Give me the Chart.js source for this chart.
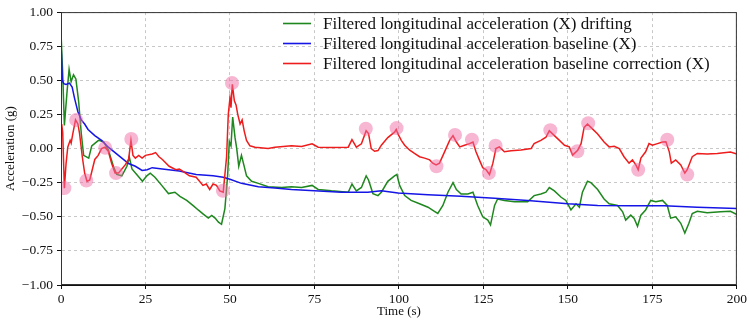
<!DOCTYPE html>
<html>
<head>
<meta charset="utf-8">
<script src="https://cdn.jsdelivr.net/npm/chart.js@4"></script>
<style>
  html, body { margin: 0; padding: 0; background: #fff; }
  #accChart { display: block; }
</style>
</head>
<body>
<canvas id="accChart" width="749" height="326"></canvas>
<script>
// drifting signal (green)
const driftTime = [0, 0.5, 1, 1.8, 2.4, 3, 3.7, 4.4, 5.2, 6, 6.7, 8.2, 9.1, 10.1, 11.1, 12.6, 14, 15.5, 16.5, 18, 19.5, 20.2, 21, 22.4, 24.1, 25.4, 26.4, 27.8, 29.8, 31.8, 33.7, 35.2, 37.2, 39.2, 40.6, 42.1, 43.6, 44.6, 45.6, 46.6, 47.5, 48.5, 49.3, 49.8, 50.3, 50.8, 51.5, 52, 52.6, 53.4, 54.1, 54.9, 56.4, 58.4, 61.3, 65.3, 68.2, 71.2, 74.3, 76.1, 80, 85, 86.1, 87.4, 88.9, 90.3, 91, 92.3, 93.8, 94.8, 96.7, 98.7, 99.4, 100.2, 101.7, 103.6, 106.1, 108.6, 110.5, 111.5, 113, 114.5, 116, 117, 118.4, 120.4, 121.9, 123.3, 124.8, 126.3, 127.1, 128.3, 129.2, 131.2, 134.2, 138.1, 140, 142, 143.5, 144.5, 146, 148, 149.4, 150.9, 152.4, 153.4, 154.3, 155.8, 156.8, 158.8, 160.7, 162.2, 164.7, 166.2, 167.1, 168.6, 169.6, 170.6, 171.6, 173, 174.5, 176, 178, 179.4, 180.4, 181.9, 183.4, 184.6, 185.8, 186.8, 188.3, 191.2, 195.2, 198.1, 200];
const driftVals = [0.85, 0.55, 0.17, 0.42, 0.58, 0.49, 0.54, 0.51, 0.35, 0.11, -0.05, -0.07, 0.02, 0.04, 0.06, 0.05, -0.01, -0.13, -0.19, -0.2, -0.13, -0.06, -0.15, -0.19, -0.24, -0.2, -0.18, -0.21, -0.27, -0.33, -0.32, -0.35, -0.38, -0.42, -0.45, -0.48, -0.51, -0.49, -0.51, -0.54, -0.555, -0.44, -0.2, 0.05, 0.02, 0.23, 0.08, 0.0, -0.13, -0.05, -0.12, -0.2, -0.24, -0.255, -0.28, -0.285, -0.28, -0.285, -0.27, -0.3, -0.31, -0.32, -0.26, -0.31, -0.285, -0.2, -0.23, -0.33, -0.345, -0.32, -0.24, -0.2, -0.19, -0.27, -0.345, -0.38, -0.405, -0.43, -0.46, -0.476, -0.417, -0.32, -0.25, -0.3, -0.333, -0.333, -0.32, -0.417, -0.5, -0.524, -0.56, -0.417, -0.37, -0.38, -0.39, -0.39, -0.345, -0.333, -0.32, -0.286, -0.31, -0.357, -0.38, -0.45, -0.405, -0.43, -0.32, -0.24, -0.25, -0.3, -0.37, -0.405, -0.417, -0.464, -0.524, -0.488, -0.512, -0.57, -0.488, -0.45, -0.38, -0.39, -0.38, -0.417, -0.51, -0.5, -0.548, -0.62, -0.548, -0.476, -0.46, -0.47, -0.464, -0.46, -0.483];

// baseline (blue)
const baseTime = [0, 0.4, 0.8, 1.5, 2.5, 3.3, 4, 5, 6, 7, 8, 10, 12, 14, 16, 18, 20, 22, 24, 25.5, 27, 30, 35, 40, 45, 48, 50, 53.4, 58.4, 63.3, 68.2, 75, 83, 90.8, 94.8, 99.7, 108.6, 118.4, 128.3, 138.1, 150, 158.8, 168.6, 178.5, 188.3, 200];
const baseVals = [0.78, 0.5, 0.476, 0.47, 0.48, 0.45, 0.37, 0.27, 0.21, 0.18, 0.14, 0.095, 0.06, 0.01, -0.03, -0.07, -0.11, -0.13, -0.16, -0.155, -0.14, -0.15, -0.165, -0.19, -0.2, -0.21, -0.225, -0.255, -0.28, -0.29, -0.3, -0.31, -0.32, -0.32, -0.31, -0.326, -0.338, -0.35, -0.364, -0.38, -0.405, -0.417, -0.42, -0.42, -0.43, -0.44];

// baseline correction (red)
const corrTime = [0.2, 0.5, 1, 1.5, 2, 2.7, 3, 3.5, 4.3, 5, 5.5, 6.3, 7, 7.7, 8.5, 9.3, 10, 11, 12, 13, 14, 15, 16, 17, 18, 19, 20, 20.7, 21.3, 22, 23, 24, 25, 27, 28, 29, 30, 32, 34, 35, 36, 38, 40, 42, 43, 44, 45, 46, 47, 48, 49, 49.5, 50, 50.3, 50.7, 51.3, 51.8, 52.3, 53, 53.6, 54.2, 54.9, 55.9, 57.4, 61.3, 63.3, 68.2, 71.2, 74.3, 76.1, 80, 85, 86.1, 87.4, 88.9, 90.3, 91, 91.8, 92.8, 93.8, 94.8, 96.7, 98.7, 99.2, 99.7, 100.7, 101.7, 103.2, 104.6, 106.1, 107.6, 109.1, 110, 111, 112, 113.5, 115, 116, 117, 118, 119.4, 120.9, 121.9, 122.8, 123.8, 124.8, 125.8, 126.8, 127.8, 128.7, 129.7, 131.2, 133.2, 136.1, 139.1, 140, 142, 143.5, 144.5, 146, 147.5, 149, 150.4, 151.4, 152.9, 153.9, 154.8, 155.8, 156.8, 158.8, 160.7, 162.2, 163.7, 165.2, 166.6, 168.1, 169.1, 170.1, 170.8, 171.6, 173, 174, 175, 176.5, 178, 179, 180, 180.6, 181.9, 183.4, 184.6, 185.3, 186.8, 188.3, 191.2, 194.2, 198.1, 200];
const corrVals = [0.18, 0.12, -0.29, -0.11, 0.01, 0.06, 0.04, 0.11, 0.21, 0.18, 0.11, -0.06, -0.18, -0.24, -0.23, -0.15, -0.08, -0.05, 0, 0.01, -0.02, -0.11, -0.18, -0.18, -0.15, -0.12, -0.08, 0.06, -0.05, -0.07, -0.05, -0.07, -0.05, -0.04, -0.03, -0.06, -0.08, -0.13, -0.155, -0.15, -0.165, -0.2, -0.21, -0.27, -0.26, -0.3, -0.26, -0.27, -0.31, -0.32, -0.06, 0.25, 0.37, 0.3, 0.47, 0.35, 0.32, 0.25, 0.18, 0.21, 0.13, 0.06, 0.02, 0.01, 0, 0.01, 0.02, 0.015, 0.035, 0.01, 0.007, 0.01, 0.065, 0.01, 0.035, 0.13, 0.11, 0, -0.02, -0.015, 0.025, 0.08, 0.12, 0.14, 0.107, 0.06, 0.024, -0.012, -0.036, -0.06, -0.07, -0.083, -0.107, -0.12, -0.107, -0.024, 0.06, 0.095, 0.048, 0.012, 0.024, 0.036, 0.048, -0.024, -0.083, -0.14, -0.155, -0.19, -0.107, 0, 0.012, -0.024, -0.017, -0.01, 0, 0.036, 0.06, 0.083, 0.13, 0.095, 0.06, 0.024, 0.012, -0.048, -0.012, 0.036, 0.155, 0.18, 0.155, 0.107, 0.048, 0.012, 0.017, 0, -0.06, -0.107, -0.083, -0.12, -0.155, -0.07, -0.024, 0.036, 0.024, 0.036, 0.048, 0.05, -0.024, -0.107, -0.083, -0.12, -0.18, -0.155, -0.06, -0.036, -0.04, -0.036, -0.026, -0.04];

// peak / valley markers (pink)
const peakTime = [1, 4.5, 7.5, 13.1, 16.3, 20.8, 47.9, 50.6, 90.2, 99.3, 111.1, 116.6, 121.6, 126.6, 128.6, 144.8, 152.8, 156, 170.8, 179.4, 185.3];
const peakVals = [-0.29, 0.21, -0.235, 0.005, -0.18, 0.07, -0.31, 0.48, 0.145, 0.15, -0.13, 0.1, 0.065, -0.18, 0.02, 0.135, -0.02, 0.185, -0.155, 0.065, -0.19];

const seriesNames = [
    'Filtered longitudinal acceleration (X) drifting',
    'Filtered longitudinal acceleration baseline (X)',
    'Filtered longitudinal acceleration baseline correction (X)'
];
const xTicks = [0, 25, 50, 75, 100, 125, 150, 175, 200];
const yTicks = [-1, -0.75, -0.5, -0.25, 0, 0.25, 0.5, 0.75, 1];

const SERIF = "'Liberation Serif', 'Times New Roman', serif";
const lineColors = ['#1e871e', '#1515e6', '#ee1c1c'];

function toPoints(times, vals) {
    return times.map((t, i) => ({ x: t, y: vals[i] }));
}

// matplotlib-like frame + legend inside the plot
const framePlugin = {
    id: 'framePlugin',
    afterDraw(chart) {
        const ctx = chart.ctx;
        const a = chart.chartArea;
        ctx.save();
        ctx.strokeStyle = '#333';
        ctx.lineWidth = 1;
        ctx.strokeRect(a.left + 0.5, a.top + 0.5, a.right - a.left - 1, a.bottom - a.top - 1);

        // legend
        const lx = 283, ly = 23.5, gap = 20;
        ctx.font = '17px ' + SERIF;
        ctx.textBaseline = 'middle';
        ctx.fillStyle = '#111';
        seriesNames.forEach((name, i) => {
            const y = ly + i * gap;
            ctx.strokeStyle = lineColors[i];
            ctx.lineWidth = 1.6;
            ctx.beginPath();
            ctx.moveTo(lx, y);
            ctx.lineTo(lx + 28, y);
            ctx.stroke();
            ctx.fillText(name, lx + 40, y + 1);
        });
        ctx.restore();
    }
};

const lineDefaults = { showLine: true, pointRadius: 0, borderWidth: 1.5, tension: 0, fill: false };

const chartData = {
    datasets: [
        Object.assign({ label: 'peaks', data: toPoints(peakTime, peakVals), showLine: false,
            pointRadius: 7, pointBorderWidth: 0, backgroundColor: 'rgba(240, 110, 165, 0.5)', order: 0 }),
        Object.assign({ label: seriesNames[2], data: toPoints(corrTime, corrVals), borderColor: lineColors[2], order: 1 }, lineDefaults),
        Object.assign({ label: seriesNames[1], data: toPoints(baseTime, baseVals), borderColor: lineColors[1], order: 2 }, lineDefaults),
        Object.assign({ label: seriesNames[0], data: toPoints(driftTime, driftVals), borderColor: lineColors[0], order: 3 }, lineDefaults)
    ]
};

const config = {
    type: 'scatter',
    data: chartData,
    options: {
        responsive: false,
        animation: false,
        devicePixelRatio: 1,
        layout: { padding: { left: 0, right: 12, top: 5, bottom: 0 } },
        plugins: { legend: { display: false }, tooltip: { enabled: false } },
        scales: {
            x: {
                type: 'linear', min: 0, max: 200,
                afterFit: (s) => { s.height = 41; },
                afterBuildTicks: (s) => { s.ticks = xTicks.map(v => ({ value: v })); },
                ticks: { font: { family: SERIF, size: 13.5 }, color: '#111', padding: 2, maxRotation: 0 },
                grid: { color: '#c8c8c8', tickColor: '#111', tickLength: 4, lineWidth: 1 },
                border: { display: true, color: '#111', dash: [3, 3] },
                title: { display: true, text: 'Time (s)', font: { family: SERIF, size: 13 }, color: '#111', padding: { top: 0, bottom: 7 } }
            },
            y: {
                type: 'linear', min: -1, max: 1,
                afterFit: (s) => { s.width = 61; },
                afterBuildTicks: (s) => { s.ticks = yTicks.map(v => ({ value: v })); },
                ticks: {
                    font: { family: SERIF, size: 13.5 }, color: '#111', padding: 4,
                    callback: (v) => (v < 0 ? '\u2212' : '') + Math.abs(v).toFixed(2)
                },
                grid: { color: '#c8c8c8', tickColor: '#111', tickLength: 4, lineWidth: 1 },
                border: { display: true, color: '#111', dash: [3, 3] },
                title: { display: true, text: 'Acceleration (g)', font: { family: SERIF, size: 13 }, color: '#111', padding: { top: 3, bottom: 0 } }
            }
        }
    },
    plugins: [framePlugin]
};

var accChart = new Chart(document.getElementById('accChart'), config);
</script>
</body>
</html>
